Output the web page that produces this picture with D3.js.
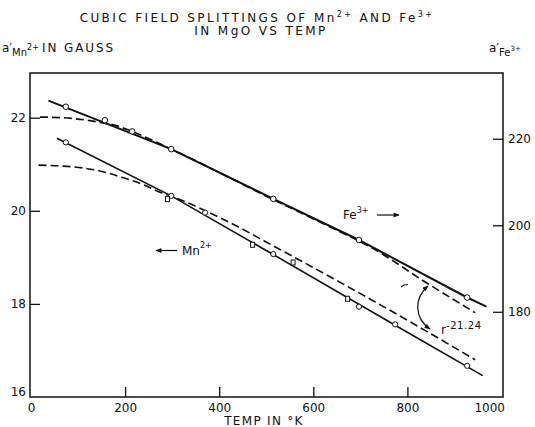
<!DOCTYPE html>
<html>
<head>
<meta charset="utf-8">
<script src="https://cdn.jsdelivr.net/npm/d3@7"></script>
<style>
  body { margin: 0; background: #fff; }
  svg { font-family: "DejaVu Sans", sans-serif; fill: #111; }
</style>
</head>
<body>
<svg id="chart" width="535" height="427"></svg>
<script>

// Fe3+ splitting, right axis (gauss)
var feObsTemp    = [74, 157, 215, 298, 515, 697, 927],
    feObsA       = [227.4, 224.3, 221.7, 217.6, 206.1, 196.6, 183.3];
var feFitTemp    = [37, 298, 515, 697, 927, 968],
    feFitA       = [228.8, 217.6, 206.1, 196.6, 183.3, 181.2];
var feTheoryTemp = [19, 62, 104, 147, 179, 210, 298, 514, 636, 721, 842, 944],
    feTheoryA    = [225.0, 224.9, 224.5, 223.8, 223.1, 221.9, 217.6, 206.0, 199.6, 195.0, 186.6, 179.8];

// Mn2+ splitting, left axis (gauss)
var mnCircTemp   = [74, 298, 370, 515, 697, 774, 927],
    mnCircA      = [21.47, 20.32, 19.96, 19.07, 17.94, 17.56, 16.67];
var mnSqTemp     = [290, 471, 557, 673],
    mnSqA        = [20.25, 19.27, 18.89, 18.11];
var mnFitTemp    = [55, 298, 515, 774, 960],
    mnFitA       = [21.56, 20.32, 19.06, 17.54, 16.46];
var mnTheoryTemp = [16, 69, 140, 196, 239, 274, 302, 408, 529, 841, 944],
    mnTheoryA    = [20.98, 20.96, 20.87, 20.71, 20.56, 20.40, 20.30, 19.82, 19.17, 17.41, 16.80];

var tempTicks  = [0, 200, 400, 600, 800, 1000],
    leftTicks  = [16, 18, 20, 22],
    rightTicks = [180, 200, 220];

var plot = {left: 30, right: 503, top: 73, bottom: 397};

var svg = d3.select("#chart");

var x  = d3.scaleLinear().domain([0, 1000]).range([31, 501.5]),
    yL = d3.scaleLinear().domain([16, 22.96]).range([plot.bottom, plot.top]),
    yR = d3.scaleLinear().domain([160.3, 235.2]).range([plot.bottom, plot.top]);

var fmt = d3.format("d");

var defs = svg.append("defs");
defs.append("marker")
    .attr("id", "head")
    .attr("viewBox", "0 0 10 10")
    .attr("refX", 9).attr("refY", 5)
    .attr("markerWidth", 7).attr("markerHeight", 6)
    .attr("markerUnits", "userSpaceOnUse")
    .attr("orient", "auto-start-reverse")
  .append("path")
    .attr("d", "M0,1 L10,5 L0,9 z")
    .style("fill", "#111");

// frame
svg.append("rect")
    .attr("x", plot.left).attr("y", plot.top)
    .attr("width", plot.right - plot.left)
    .attr("height", plot.bottom - plot.top)
    .style("fill", "none")
    .style("stroke", "#111")
    .style("stroke-width", 1.5);

// axes
var gx = svg.append("g")
    .attr("transform", "translate(0," + plot.bottom + ")")
    .call(d3.axisBottom(x).tickValues(tempTicks).tickFormat(fmt)
      .tickSize(-10).tickSizeOuter(0).tickPadding(6));

var gl = svg.append("g")
    .attr("transform", "translate(" + plot.left + ",0)")
    .call(d3.axisLeft(yL).tickValues(leftTicks).tickFormat(fmt)
      .tickSize(-10).tickSizeOuter(0).tickPadding(4));

var gr = svg.append("g")
    .attr("transform", "translate(" + plot.right + ",0)")
    .call(d3.axisRight(yR).tickValues(rightTicks).tickFormat(fmt)
      .tickSize(-10).tickSizeOuter(0).tickPadding(5));

[gx, gl, gr].forEach(function(g) {
  g.select(".domain").remove();
  g.selectAll("line").style("stroke", "#111").style("stroke-width", 1.3);
  g.selectAll("text")
      .style("font-family", "DejaVu Sans, sans-serif")
      .style("font-size", "12px")
      .style("fill", "#111");
});

// 0 and 1000 sit on the frame; 16 is lifted off the bottom line
gx.selectAll(".tick").filter(function(d) { return d === 0 || d === 1000; }).select("line").remove();
gx.selectAll(".tick").filter(function(d) { return d === 1000; }).select("text")
    .attr("text-anchor", "end").attr("dx", 3);
gl.selectAll(".tick").filter(function(d) { return d === 16; }).select("line").remove();
gl.selectAll(".tick").filter(function(d) { return d === 16; }).select("text").attr("dy", "-0.1em");

// curves
var lineR = d3.line().x(function(d) { return x(d[0]); }).y(function(d) { return yR(d[1]); }),
    lineL = d3.line().x(function(d) { return x(d[0]); }).y(function(d) { return yL(d[1]); });

svg.append("path")
    .datum(d3.zip(feTheoryTemp, feTheoryA))
    .attr("d", lineR.curve(d3.curveMonotoneX))
    .style("fill", "none").style("stroke", "#111").style("stroke-width", 1.7)
    .style("stroke-dasharray", "8,4");

svg.append("path")
    .datum(d3.zip(mnTheoryTemp, mnTheoryA))
    .attr("d", lineL.curve(d3.curveMonotoneX))
    .style("fill", "none").style("stroke", "#111").style("stroke-width", 1.6)
    .style("stroke-dasharray", "8,4");

svg.append("path")
    .datum(d3.zip(feFitTemp, feFitA))
    .attr("d", lineR.curve(d3.curveLinear))
    .style("fill", "none").style("stroke", "#111").style("stroke-width", 2);

svg.append("path")
    .datum(d3.zip(mnFitTemp, mnFitA))
    .attr("d", lineL.curve(d3.curveLinear))
    .style("fill", "none").style("stroke", "#111").style("stroke-width", 1.6);

// points
svg.selectAll(".fe-pt")
    .data(d3.zip(feObsTemp, feObsA))
  .enter().append("circle")
    .attr("class", "fe-pt")
    .attr("cx", function(d) { return x(d[0]); })
    .attr("cy", function(d) { return yR(d[1]); })
    .attr("r", 2.8)
    .style("fill", "#fff").style("stroke", "#111").style("stroke-width", 1);

svg.selectAll(".mn-pt")
    .data(d3.zip(mnCircTemp, mnCircA))
  .enter().append("circle")
    .attr("class", "mn-pt")
    .attr("cx", function(d) { return x(d[0]); })
    .attr("cy", function(d) { return yL(d[1]); })
    .attr("r", 2.6)
    .style("fill", "#fff").style("stroke", "#111").style("stroke-width", 1);

svg.selectAll(".mn-sq")
    .data(d3.zip(mnSqTemp, mnSqA))
  .enter().append("rect")
    .attr("class", "mn-sq")
    .attr("x", function(d) { return x(d[0]) - 2; })
    .attr("y", function(d) { return yL(d[1]) - 2.5; })
    .attr("width", 4).attr("height", 5)
    .style("fill", "#fff").style("stroke", "#111").style("stroke-width", 1);

// titles
function label(xp, yp, size, spacing, anchor) {
  return svg.append("text")
      .attr("x", xp).attr("y", yp)
      .attr("text-anchor", anchor || "start")
      .style("font-size", size + "px")
      .style("letter-spacing", spacing + "px");
}

var t1 = label(257, 22, 12, 2.4, "middle");
t1.append("tspan").text("CUBIC FIELD SPLITTINGS OF Mn");
t1.append("tspan").attr("dy", -5).style("font-size", "8px").text("2+");
t1.append("tspan").attr("dy", 5).text(" AND Fe");
t1.append("tspan").attr("dy", -5).style("font-size", "8px").text("3+");

label(261, 35, 12, 2.4, "middle").text("IN MgO VS TEMP");

var al = label(2, 52, 12, 0);
al.append("tspan").text("a′");
al.append("tspan").attr("dy", 4).style("font-size", "10px").text("Mn");
al.append("tspan").attr("dy", -6).style("font-size", "8px").text("2+");
al.append("tspan").attr("x", 42).attr("dy", 2).style("letter-spacing", "1.9px").text("IN GAUSS");

var ar = label(489, 52, 12, 0);
ar.append("tspan").text("a′");
ar.append("tspan").attr("dy", 4).style("font-size", "10px").text("Fe");
ar.append("tspan").attr("dy", -5).style("font-size", "7px").text("3+");

label(264, 425, 12, 1.3, "middle").text("TEMP IN °K");

// annotations
var fe = label(343, 219, 12, 0);
fe.append("tspan").text("Fe");
fe.append("tspan").attr("dy", -6).style("font-size", "8px").text("3+");
svg.append("line")
    .attr("x1", 377).attr("y1", 215).attr("x2", 399).attr("y2", 215)
    .style("stroke", "#111").style("stroke-width", 1.2)
    .attr("marker-end", "url(#head)");

svg.append("line")
    .attr("x1", 177).attr("y1", 250.5).attr("x2", 156).attr("y2", 250.5)
    .style("stroke", "#111").style("stroke-width", 1.2)
    .attr("marker-end", "url(#head)");
var mn = label(182, 255, 12, 0);
mn.append("tspan").text("Mn");
mn.append("tspan").attr("dy", -7).style("font-size", "8px").text("2+");

var rr = label(441, 334, 12, 0);
rr.append("tspan").text("r");
rr.append("tspan").attr("dy", -5).style("font-size", "10px").style("letter-spacing", "0.6px").text("-21.24");

svg.append("path")
    .attr("d", "M428,286 C414,298 414,318 430,329")
    .style("fill", "none").style("stroke", "#111").style("stroke-width", 1.2)
    .attr("marker-start", "url(#head)")
    .attr("marker-end", "url(#head)");

svg.append("path")
    .attr("d", "M401,287 L404,285 L408,284.5")
    .style("fill", "none").style("stroke", "#111").style("stroke-width", 1.2);

</script>
</body>
</html>
